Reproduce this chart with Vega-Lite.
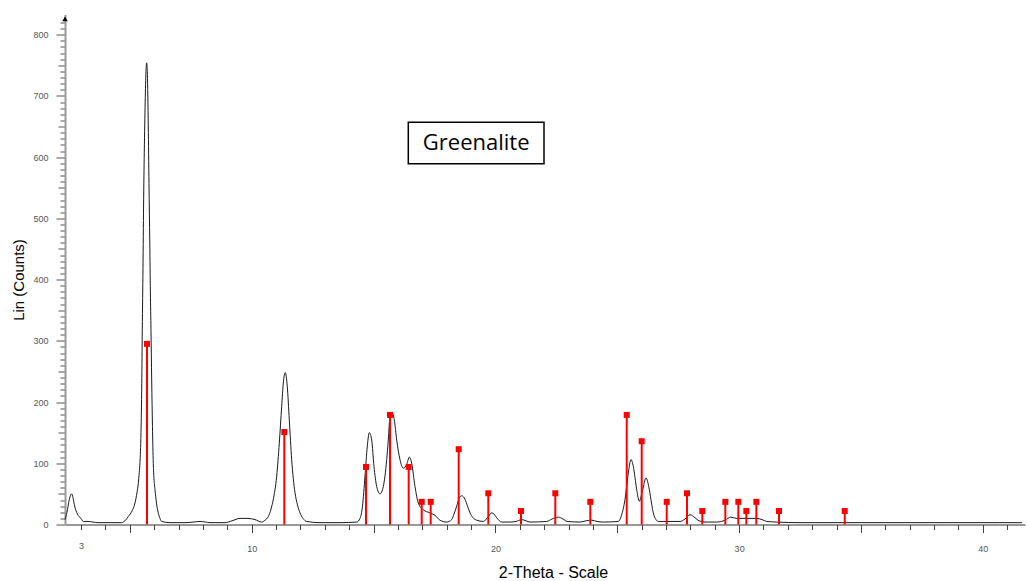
{
  "$schema": "https://vega.github.io/schema/vega-lite/v6.json",
  "width": 960,
  "height": 510,
  "autosize": {"type": "none"},
  "padding": {"left": 65, "top": 14.5, "right": 2, "bottom": 56.5},
  "background": "white",
  "config": {"view": {"stroke": null}, "font": "Liberation Sans"},
  "data": {"values": [{}]},
  "datasets": {
    "profile": [
      {"tt": 2.339, "c": 8}, {"tt": 2.421, "c": 20}, {"tt": 2.503, "c": 38}, {"tt": 2.56, "c": 47}, {"tt": 2.614, "c": 50},
      {"tt": 2.667, "c": 44}, {"tt": 2.72, "c": 33}, {"tt": 2.778, "c": 24}, {"tt": 2.85, "c": 17}, {"tt": 2.913, "c": 13},
      {"tt": 2.996, "c": 10}, {"tt": 3.09, "c": 5}, {"tt": 3.283, "c": 5}, {"tt": 3.488, "c": 4}, {"tt": 3.693, "c": 3},
      {"tt": 4.185, "c": 3}, {"tt": 4.666, "c": 3}, {"tt": 4.801, "c": 6}, {"tt": 4.936, "c": 13}, {"tt": 5.088, "c": 22},
      {"tt": 5.211, "c": 35}, {"tt": 5.293, "c": 52}, {"tt": 5.347, "c": 67}, {"tt": 5.388, "c": 85}, {"tt": 5.416, "c": 101},
      {"tt": 5.458, "c": 150}, {"tt": 5.49, "c": 230}, {"tt": 5.511, "c": 318}, {"tt": 5.54, "c": 420}, {"tt": 5.564, "c": 520},
      {"tt": 5.593, "c": 608}, {"tt": 5.63, "c": 690}, {"tt": 5.663, "c": 740}, {"tt": 5.691, "c": 754}, {"tt": 5.72, "c": 735},
      {"tt": 5.757, "c": 651}, {"tt": 5.786, "c": 557}, {"tt": 5.819, "c": 460}, {"tt": 5.843, "c": 380}, {"tt": 5.868, "c": 318},
      {"tt": 5.897, "c": 236}, {"tt": 5.929, "c": 160}, {"tt": 5.962, "c": 100}, {"tt": 5.991, "c": 75}, {"tt": 6.032, "c": 57},
      {"tt": 6.094, "c": 35}, {"tt": 6.167, "c": 19}, {"tt": 6.237, "c": 10}, {"tt": 6.307, "c": 5}, {"tt": 6.647, "c": 3},
      {"tt": 7.263, "c": 3}, {"tt": 7.6, "c": 4}, {"tt": 7.879, "c": 5}, {"tt": 8.1, "c": 4}, {"tt": 8.289, "c": 3},
      {"tt": 8.904, "c": 3}, {"tt": 9.192, "c": 6}, {"tt": 9.52, "c": 10}, {"tt": 9.848, "c": 10}, {"tt": 10.135, "c": 8},
      {"tt": 10.41, "c": 4}, {"tt": 10.546, "c": 7}, {"tt": 10.681, "c": 13}, {"tt": 10.792, "c": 25}, {"tt": 10.886, "c": 41},
      {"tt": 11.026, "c": 79}, {"tt": 11.133, "c": 133}, {"tt": 11.231, "c": 193}, {"tt": 11.297, "c": 231}, {"tt": 11.379, "c": 248},
      {"tt": 11.461, "c": 225}, {"tt": 11.543, "c": 171}, {"tt": 11.641, "c": 106}, {"tt": 11.707, "c": 75}, {"tt": 11.777, "c": 52},
      {"tt": 11.879, "c": 32}, {"tt": 11.982, "c": 19}, {"tt": 12.105, "c": 10}, {"tt": 12.257, "c": 5}, {"tt": 12.803, "c": 3},
      {"tt": 13.623, "c": 3}, {"tt": 14.309, "c": 4}, {"tt": 14.444, "c": 10}, {"tt": 14.547, "c": 30}, {"tt": 14.649, "c": 79},
      {"tt": 14.744, "c": 128}, {"tt": 14.826, "c": 150}, {"tt": 14.924, "c": 138}, {"tt": 15.018, "c": 95}, {"tt": 15.129, "c": 62},
      {"tt": 15.265, "c": 50}, {"tt": 15.4, "c": 62}, {"tt": 15.54, "c": 106}, {"tt": 15.605, "c": 138}, {"tt": 15.675, "c": 176},
      {"tt": 15.769, "c": 182}, {"tt": 15.851, "c": 171}, {"tt": 15.95, "c": 138}, {"tt": 16.085, "c": 106}, {"tt": 16.221, "c": 92},
      {"tt": 16.36, "c": 98}, {"tt": 16.467, "c": 110}, {"tt": 16.565, "c": 100}, {"tt": 16.701, "c": 62}, {"tt": 16.836, "c": 35},
      {"tt": 17.041, "c": 24}, {"tt": 17.316, "c": 19}, {"tt": 17.522, "c": 15}, {"tt": 17.727, "c": 7}, {"tt": 18.002, "c": 4},
      {"tt": 18.207, "c": 8}, {"tt": 18.301, "c": 17}, {"tt": 18.412, "c": 30}, {"tt": 18.506, "c": 42}, {"tt": 18.617, "c": 47},
      {"tt": 18.753, "c": 41}, {"tt": 18.855, "c": 30}, {"tt": 18.958, "c": 19}, {"tt": 19.081, "c": 11}, {"tt": 19.233, "c": 7},
      {"tt": 19.504, "c": 5}, {"tt": 19.709, "c": 13}, {"tt": 19.848, "c": 19}, {"tt": 19.943, "c": 17}, {"tt": 20.053, "c": 11},
      {"tt": 20.259, "c": 4}, {"tt": 20.599, "c": 4}, {"tt": 20.845, "c": 5}, {"tt": 21.079, "c": 8}, {"tt": 21.256, "c": 6},
      {"tt": 21.42, "c": 4}, {"tt": 22.105, "c": 5}, {"tt": 22.323, "c": 9}, {"tt": 22.581, "c": 12}, {"tt": 22.774, "c": 9},
      {"tt": 22.938, "c": 5}, {"tt": 23.471, "c": 4}, {"tt": 23.718, "c": 6}, {"tt": 23.952, "c": 7}, {"tt": 24.169, "c": 5},
      {"tt": 24.428, "c": 4}, {"tt": 25.043, "c": 5}, {"tt": 25.174, "c": 15}, {"tt": 25.318, "c": 41}, {"tt": 25.453, "c": 84},
      {"tt": 25.564, "c": 106}, {"tt": 25.659, "c": 95}, {"tt": 25.798, "c": 57}, {"tt": 25.905, "c": 38}, {"tt": 26.044, "c": 57},
      {"tt": 26.18, "c": 76}, {"tt": 26.315, "c": 57}, {"tt": 26.405, "c": 35}, {"tt": 26.479, "c": 19}, {"tt": 26.59, "c": 8},
      {"tt": 26.685, "c": 5}, {"tt": 27.029, "c": 5}, {"tt": 27.575, "c": 5}, {"tt": 27.78, "c": 9}, {"tt": 27.985, "c": 16},
      {"tt": 28.19, "c": 11}, {"tt": 28.355, "c": 6}, {"tt": 28.601, "c": 4}, {"tt": 29.081, "c": 4}, {"tt": 29.422, "c": 7},
      {"tt": 29.655, "c": 12}, {"tt": 29.902, "c": 10}, {"tt": 30.312, "c": 10}, {"tt": 30.722, "c": 10}, {"tt": 30.94, "c": 8},
      {"tt": 31.132, "c": 5}, {"tt": 31.543, "c": 4}, {"tt": 32.5, "c": 3}, {"tt": 34.55, "c": 3}, {"tt": 36.6, "c": 3},
      {"tt": 38.65, "c": 3}, {"tt": 40.7, "c": 3}, {"tt": 41.61, "c": 3}
    ],
    "sticks": [
      {"tt": 5.704, "i": 295}, {"tt": 11.338, "i": 151}, {"tt": 14.69, "i": 94}, {"tt": 15.675, "i": 179},
      {"tt": 16.442, "i": 94}, {"tt": 16.976, "i": 37}, {"tt": 17.345, "i": 37}, {"tt": 18.494, "i": 123},
      {"tt": 19.709, "i": 51}, {"tt": 21.051, "i": 22}, {"tt": 22.458, "i": 51}, {"tt": 23.894, "i": 37},
      {"tt": 25.388, "i": 179}, {"tt": 26.003, "i": 136}, {"tt": 27.029, "i": 37}, {"tt": 27.862, "i": 51},
      {"tt": 28.49, "i": 22}, {"tt": 29.434, "i": 37}, {"tt": 29.967, "i": 37}, {"tt": 30.295, "i": 22},
      {"tt": 30.706, "i": 37}, {"tt": 31.637, "i": 22}, {"tt": 34.333, "i": 22}
    ]
  },
  "layer": [
    {
      "data": {"name": "profile"},
      "mark": {"type": "line", "color": "#1a1a1a", "strokeWidth": 1, "interpolate": "monotone"},
      "encoding": {
        "x": {
          "field": "tt", "type": "quantitative", "title": "2-Theta - Scale",
          "scale": {"domain": [2.34, 41.73], "nice": false, "zero": false},
          "axis": {
            "title": "2-Theta - Scale",
            "values": [3,4,5,6,7,8,9,10,11,12,13,14,15,16,17,18,19,20,21,22,23,24,25,26,27,28,29,30,31,32,33,34,35,36,37,38,39,40,41],
            "tickCount": 500,
            "format": "d",
            "labelExpr": "(datum.value == 3 || datum.value % 10 == 0) ? datum.label : ''",
            "tickSize": {"condition": {"test": "datum.value % 5 == 0", "value": 8}, "value": 5},
            "labelPadding": 12,
            "labelFontSize": 9,
            "labelColor": "#555",
            "labelFlush": false,
            "labelOverlap": false,
            "labelBound": false,
            "domainColor": "#333",
            "domainWidth": 1,
            "tickColor": "#444",
            "tickWidth": 1,
            "grid": false,
            "titleFontSize": 16,
            "titleFontWeight": "normal",
            "titleColor": "#000",
            "titleX": 488,
            "titleY": 52.5,
            "titleAlign": "center",
            "titleBaseline": "alphabetic"
          }
        },
        "y": {
          "field": "c", "type": "quantitative", "title": "Lin (Counts)",
          "scale": {"domain": [0, 833], "nice": false},
          "axis": {
            "title": "Lin (Counts)",
            "values": [0,10,20,30,40,50,60,70,80,90,100,110,120,130,140,150,160,170,180,190,200,210,220,230,240,250,260,270,280,290,300,310,320,330,340,350,360,370,380,390,400,410,420,430,440,450,460,470,480,490,500,510,520,530,540,550,560,570,580,590,600,610,620,630,640,650,660,670,680,690,700,710,720,730,740,750,760,770,780,790,800,810,820],
            "tickCount": 500,
            "format": "d",
            "labelExpr": "datum.value % 100 == 0 ? datum.label : ''",
            "tickSize": {"condition": [{"test": "datum.value % 100 == 0", "value": 9}, {"test": "datum.value % 50 == 0", "value": 7}], "value": 5},
            "labelPadding": 8,
            "labelFontSize": 9,
            "labelColor": "#555",
            "labelFlush": false,
            "labelOverlap": false,
            "labelBound": false,
            "domainColor": "#999",
            "domainWidth": 2,
            "tickColor": "#555",
            "tickWidth": 1,
            "grid": false,
            "titleFontSize": 15,
            "titleFontWeight": "normal",
            "titleColor": "#000",
            "titleAngle": -90,
            "titleX": -47,
            "titleY": 265,
            "titleAlign": "center",
            "titleBaseline": "middle"
          }
        }
      }
    },
    {
      "data": {"name": "sticks"},
      "mark": {"type": "rule", "color": "#ff0000", "strokeWidth": 2},
      "encoding": {
        "x": {"field": "tt", "type": "quantitative", "title": "2-Theta - Scale"},
        "y": {"field": "i", "type": "quantitative", "title": "Lin (Counts)"},
        "y2": {"datum": 0}
      }
    },
    {
      "data": {"name": "sticks"},
      "mark": {"type": "point", "shape": "square", "filled": true, "color": "#ff0000", "size": 36, "opacity": 1},
      "encoding": {
        "x": {"field": "tt", "type": "quantitative", "title": "2-Theta - Scale"},
        "y": {"field": "i", "type": "quantitative", "title": "Lin (Counts)"}
      }
    },
    {
      "mark": {"type": "rect", "fill": "white", "stroke": "black", "strokeWidth": 1.5},
      "encoding": {
        "x": {"datum": 16.426, "type": "quantitative", "title": "2-Theta - Scale"},
        "x2": {"datum": 21.994},
        "y": {"datum": 657.2, "type": "quantitative", "title": "Lin (Counts)"},
        "y2": {"datum": 589.1}
      }
    },
    {
      "mark": {"type": "text", "font": "Open Sans", "fontSize": 22, "color": "#000", "align": "center", "baseline": "middle"},
      "encoding": {
        "x": {"datum": 19.21, "type": "quantitative", "title": "2-Theta - Scale"},
        "y": {"datum": 623, "type": "quantitative", "title": "Lin (Counts)"},
        "text": {"value": "Greenalite"}
      }
    },
    {
      "mark": {"type": "point", "shape": "triangle-up", "filled": true, "color": "#000", "size": 30, "opacity": 1},
      "encoding": {
        "x": {"datum": 2.34, "type": "quantitative", "title": "2-Theta - Scale"},
        "y": {"datum": 826, "type": "quantitative", "title": "Lin (Counts)"}
      }
    }
  ]
}
